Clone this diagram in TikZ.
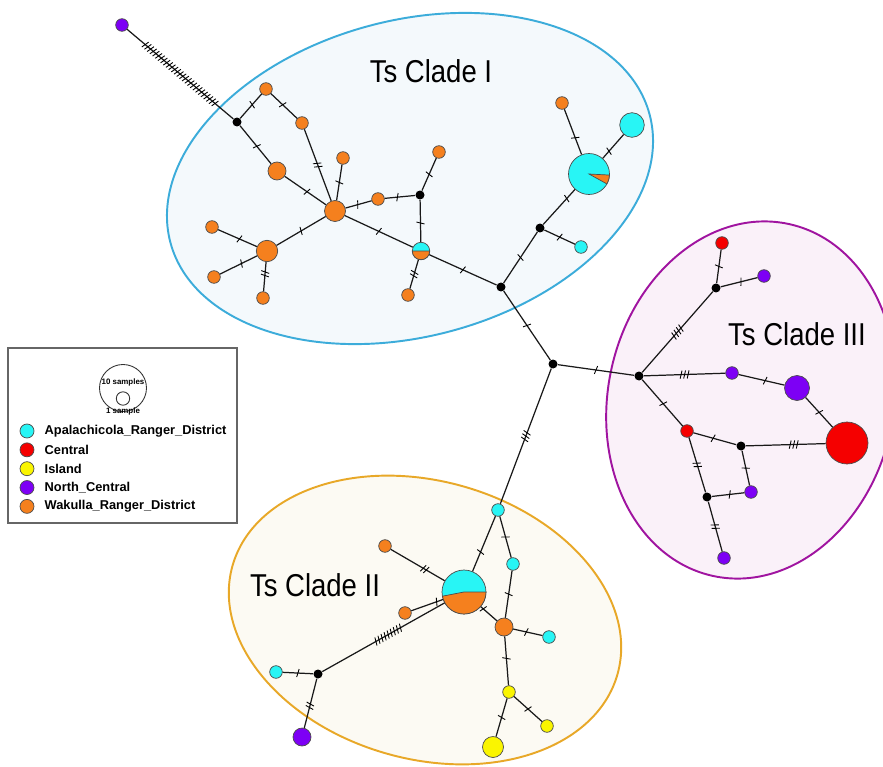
\documentclass[tikz,border=0pt]{standalone}
\usepackage{fontspec}
\setmainfont{Liberation Sans}
\usetikzlibrary{positioning,decorations.markings}

\definecolor{apa}{RGB}{40,245,245}
\definecolor{cen}{RGB}{245,0,0}
\definecolor{isl}{RGB}{250,245,0}
\definecolor{nce}{RGB}{125,0,245}
\definecolor{wak}{RGB}{245,128,30}
\definecolor{lineA}{RGB}{60,172,218}
\definecolor{fillA}{RGB}{244,249,252}
\definecolor{lineB}{RGB}{232,168,40}
\definecolor{fillB}{RGB}{252,250,243}
\definecolor{lineC}{RGB}{160,20,160}
\definecolor{fillC}{RGB}{250,241,249}

\tikzset{
  hap/.style={circle, draw=black!70, line width=0.4pt, inner sep=0pt, minimum size=#1*0.04cm},
  hap/.default=6.3,
  med/.style={circle, fill=black, inner sep=0pt, minimum size=0.18cm},
  conn/.style={line width=0.7pt, black!90},
  hatch/.style 2 args={postaction={decorate, decoration={markings,
    mark=at position #2 with {\foreach \k in {1,...,#1}{
      \pgfmathsetmacro\off{(\k-(#1+1)/2)*2}
      \draw[line width=0.5pt, black] (\off pt-0.6pt,-2.3pt) -- (\off pt+0.6pt,2.3pt);}}}}},
  clade/.style={font=\fontsize{18}{20}\selectfont, xscale=0.87, inner sep=0pt},
  legtext/.style={font=\fontsize{7.3}{8}\selectfont\bfseries, inner sep=0pt},
}

\begin{document}
\begin{tikzpicture}[x=0.02cm, y=-0.02cm]
    \clip (0,0) rectangle (883,767);

    \draw[lineA, line width=1.1pt, fill=fillA, rotate around={15:(410,178.5)}]
        (410,178.5) ellipse[x radius=248, y radius=158];
    \draw[lineC, line width=1.1pt, fill=fillC, rotate around={-12:(751,400)}]
        (751,400) ellipse[x radius=143, y radius=180];
    \draw[lineB, line width=1.1pt, fill=fillB, rotate around={-15.7:(425,620)}]
        (425,620) ellipse[x radius=200, y radius=139];

    \draw[black!60, line width=0.6pt, fill=white] (8,348) rectangle (237,523);
    \node[circle, draw=black!80, line width=0.5pt, inner sep=0pt, minimum size=47*0.02cm] (s10) at (123,388) {};
    \node[circle, draw=black!80, line width=0.5pt, inner sep=0pt, minimum size=13.4*0.02cm] (s1) at (123,398.5) {};
    \node[font=\fontsize{4.5}{5}\selectfont\bfseries, inner sep=0pt] (t10) at (123,382) {10 samples};
    \node[font=\fontsize{4.5}{5}\selectfont\bfseries, inner sep=0pt] (t1s) at (123,411) {1 sample};

    \node[hap=7, fill=apa] (l1) at (27,431) {};
    \node[hap=7, fill=cen, below=0.083cm of l1] (l2) {};
    \node[hap=7, fill=isl, below=0.083cm of l2] (l3) {};
    \node[hap=7, fill=nce, below=0.083cm of l3] (l4) {};
    \node[hap=7, fill=wak, below=0.083cm of l4] (l5) {};
    \node[legtext, right=0.2cm of l1] (k1) {Apalachicola\_Ranger\_District};
    \node[legtext, right=0.2cm of l2] (k2) {Central};
    \node[legtext, right=0.2cm of l3] (k3) {Island};
    \node[legtext, right=0.2cm of l4] (k4) {North\_Central};
    \node[legtext, right=0.2cm of l5] (k5) {Wakulla\_Ranger\_District};

    \node[hap, fill=nce]       (1)  at (122,25)  {};
    \node[med]                 (2)  at (237,122) {};
    \node[hap, fill=wak]       (3)  at (266,89)  {};
    \node[hap, fill=wak]       (4)  at (302,123) {};
    \node[hap=9, fill=wak]     (5)  at (277,171) {};
    \node[hap=10.5, fill=wak]  (6)  at (335,211) {};
    \node[hap, fill=wak]       (7)  at (343,158) {};
    \node[hap, fill=wak]       (8)  at (378,199) {};
    \node[med]                 (9)  at (420,195) {};
    \node[hap, fill=wak]       (10) at (439,152) {};
    \node[hap=8.7, fill=apa]   (11) at (421,251) {};
    \node[hap, fill=wak]       (12) at (408,295) {};
    \node[hap=10.7, fill=wak]  (13) at (267,251) {};
    \node[hap, fill=wak]       (14) at (212,227) {};
    \node[hap, fill=wak]       (15) at (214,277) {};
    \node[hap, fill=wak]       (16) at (263,298) {};
    \node[med]                 (17) at (501,287) {};
    \node[med]                 (18) at (540,228) {};
    \node[hap, fill=apa]       (19) at (581,247) {};
    \node[hap=20.5, fill=apa]  (20) at (589,174) {};
    \node[hap, fill=wak]       (21) at (562,103) {};
    \node[hap=12.3, fill=apa]  (22) at (632,125) {};
    \node[med]                 (23) at (553,364) {};

    \node[med]                 (24) at (639,376) {};
    \node[med]                 (25) at (716,288) {};
    \node[hap, fill=cen]       (26) at (722,243) {};
    \node[hap, fill=nce]       (27) at (764,276) {};
    \node[hap, fill=nce]       (28) at (732,373) {};
    \node[hap=12.5, fill=nce]  (29) at (797,388) {};
    \node[hap=21, fill=cen]    (30) at (847,443) {};
    \node[hap, fill=cen]       (31) at (687,431) {};
    \node[med]                 (32) at (741,446) {};
    \node[hap, fill=nce]       (33) at (751,492) {};
    \node[med]                 (34) at (707,497) {};
    \node[hap, fill=nce]       (35) at (724,558) {};

    \node[hap, fill=apa]       (36) at (498,510) {};
    \node[hap=22, fill=apa]    (37) at (464,592) {};
    \node[hap, fill=apa]       (38) at (513,564) {};
    \node[hap=9, fill=wak]     (39) at (504,627) {};
    \node[hap, fill=apa]       (40) at (549,637) {};
    \node[hap, fill=isl]       (41) at (509,692) {};
    \node[hap, fill=isl]       (42) at (547,726) {};
    \node[hap=10.5, fill=isl]  (43) at (493,747) {};
    \node[hap, fill=wak]       (44) at (385,546) {};
    \node[hap, fill=wak]       (45) at (405,613) {};
    \node[med]                 (46) at (318,674) {};
    \node[hap, fill=apa]       (47) at (276,672) {};
    \node[hap=9, fill=nce]     (48) at (302,737) {};

    \filldraw[fill=wak, draw=black!70, line width=0.4pt] (11.center) -- ++(0:8.7) arc[start angle=0, end angle=180, radius=8.7] -- cycle;
    \filldraw[fill=wak, draw=black!70, line width=0.4pt] (20.center) -- ++(3:20.5) arc[start angle=3, end angle=29, radius=20.5] -- cycle;
    \filldraw[fill=wak, draw=black!70, line width=0.4pt] (37.center) -- ++(0:22) arc[start angle=0, end angle=169, radius=22] -- cycle;

    \draw[conn, hatch={27}{0.5}]  (1)  -- (2);
    \draw[conn, hatch={1}{0.56}]  (2)  -- (3);
    \draw[conn, hatch={1}{0.45}]  (3)  -- (4);
    \draw[conn, hatch={2}{0.5}]   (4)  -- (6);
    \draw[conn, hatch={1}{0.54}]  (2)  -- (5);
    \draw[conn, hatch={1}{0.54}]  (5)  -- (6);
    \draw[conn, hatch={1}{0.5}]   (7)  -- (6);
    \draw[conn, hatch={1}{0.47}]  (6)  -- (8);
    \draw[conn, hatch={1}{0.42}]  (8)  -- (9);
    \draw[conn, hatch={1}{0.5}]   (9)  -- (10);
    \draw[conn, hatch={1}{0.55}]  (9)  -- (11);
    \draw[conn, hatch={1}{0.5}]   (6)  -- (11);
    \draw[conn, hatch={2}{0.5}]   (11) -- (12);
    \draw[conn, hatch={1}{0.5}]   (6)  -- (13);
    \draw[conn, hatch={1}{0.45}]  (13) -- (14);
    \draw[conn, hatch={1}{0.42}]  (13) -- (15);
    \draw[conn, hatch={2}{0.4}]   (13) -- (16);
    \draw[conn, hatch={1}{0.5}]   (11) -- (17);
    \draw[conn, hatch={1}{0.5}]   (17) -- (18);
    \draw[conn, hatch={1}{0.5}]   (18) -- (19);
    \draw[conn, hatch={1}{0.74}]  (18) -- (20);
    \draw[conn, hatch={1}{0.37}]  (20) -- (21);
    \draw[conn, hatch={1}{0.3}]   (20) -- (22);
    \draw[conn, hatch={1}{0.5}]   (17) -- (23);
    \draw[conn, hatch={1}{0.5}]   (23) -- (24);
    \draw[conn, hatch={3}{0.5}]   (23) -- (36);

    \draw[conn, hatch={4}{0.5}]   (24) -- (25);
    \draw[conn, hatch={1}{0.5}]   (25) -- (26);
    \draw[conn, hatch={1}{0.55}]  (25) -- (27);
    \draw[conn, hatch={3}{0.5}]   (24) -- (28);
    \draw[conn, hatch={1}{0.58}]  (28) -- (29);
    \draw[conn, hatch={1}{0.5}]   (29) -- (30);
    \draw[conn, hatch={1}{0.52}]  (24) -- (31);
    \draw[conn, hatch={1}{0.46}]  (31) -- (32);
    \draw[conn, hatch={3}{0.6}]   (32) -- (30);
    \draw[conn, hatch={1}{0.5}]   (32) -- (33);
    \draw[conn, hatch={2}{0.5}]   (31) -- (34);
    \draw[conn, hatch={1}{0.55}]  (34) -- (33);
    \draw[conn, hatch={2}{0.5}]   (34) -- (35);

    \draw[conn, hatch={1}{0.65}]  (36) -- (37);
    \draw[conn, hatch={1}{0.5}]   (36) -- (38);
    \draw[conn, hatch={1}{0.5}]   (38) -- (39);
    \draw[conn, hatch={1}{0.85}]  (39) -- (37);
    \draw[conn, hatch={1}{0.45}]  (39) -- (40);
    \draw[conn, hatch={1}{0.45}]  (39) -- (41);
    \draw[conn, hatch={1}{0.5}]   (41) -- (42);
    \draw[conn, hatch={1}{0.5}]   (41) -- (43);
    \draw[conn, hatch={2}{0.63}]  (44) -- (37);
    \draw[conn, hatch={1}{0.2}]   (37) -- (45);
    \draw[conn, hatch={9}{0.54}]  (46) -- (37);
    \draw[conn, hatch={1}{0.5}]   (46) -- (47);
    \draw[conn, hatch={2}{0.55}]  (46) -- (48);

    \node[clade] (c1) at (431,71)  {Ts Clade I};
    \node[clade] (c2) at (315,585) {Ts Clade II};
    \node[clade] (c3) at (797,334) {Ts Clade III};
\end{tikzpicture}
\end{document}
